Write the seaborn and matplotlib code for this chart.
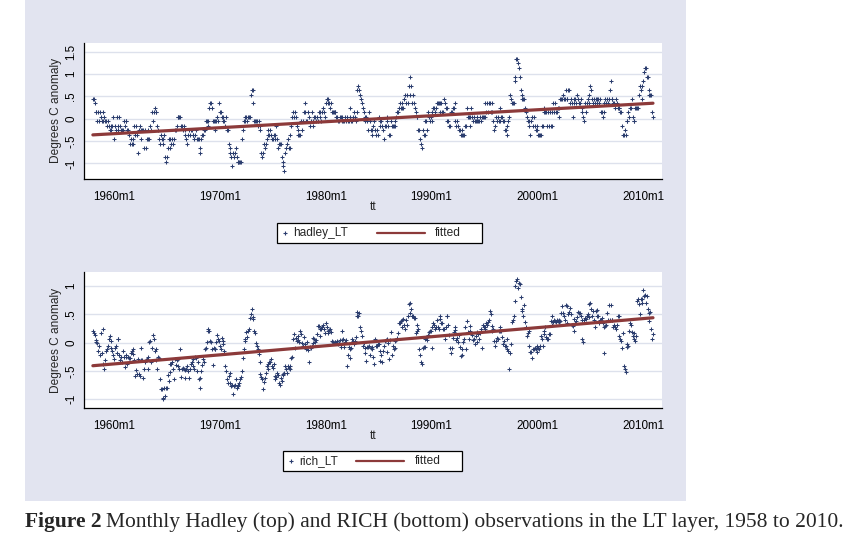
import numpy as np
import pandas as pd
import matplotlib
matplotlib.use("Agg")
import matplotlib.pyplot as plt
import seaborn as sns
from matplotlib.lines import Line2D
from matplotlib.patches import Rectangle

# monthly anomalies, Jan 1958 .. Dec 2010 (one row per year)
hadley_lt = [
    0.44, 0.44, 0.34, 0.14, 0.14, -0.06, 0.14, -0.06, 0.14, 0.04, -0.06, 0.14,      # 1958
    -0.06, 0.04, -0.06, -0.06, -0.16, -0.06, -0.16, -0.26, -0.16, -0.26, -0.16, 0.04,
    -0.46, -0.16, -0.26, 0.04, -0.16, -0.26, 0.04, -0.16, -0.26, -0.26, -0.26, -0.06,  # 1960
    -0.16, -0.06, -0.06, -0.26, -0.26, -0.36, -0.56, -0.46, -0.56, -0.46, -0.56, -0.16,
    -0.36, -0.16, -0.36, -0.76, -0.26, -0.16, -0.46, -0.26, -0.26, -0.26, -0.66, -0.26,
    -0.66, -0.46, -0.46, -0.26, -0.46, -0.16, -0.26, 0.14, -0.06, 0.14, 0.24, 0.14,
    0.14, -0.16, -0.26, -0.46, -0.56, -0.36, -0.46, -0.56, -0.46, -0.36, -0.86, -0.96,
    -0.86, -0.66, -0.46, -0.66, -0.46, -0.56, -0.46, -0.56, -0.46, -0.26, -0.26, -0.16,
    0.04, 0.04, 0.04, 0.04, -0.16, -0.16, -0.26, -0.16, -0.36, -0.26, -0.46, -0.56,
    -0.36, -0.26, -0.36, -0.26, -0.26, -0.36, -0.36, -0.46, -0.36, -0.26, -0.46, -0.46,
    -0.46, -0.66, -0.76, -0.46, -0.36, -0.36, -0.26, -0.26, -0.06, -0.06, -0.16, -0.06,
    0.24, 0.34, 0.34, 0.24, -0.06, -0.06, -0.26, -0.06, -0.06, 0.04, -0.06, 0.34,
    0.14, 0.14, 0.04, 0.04, -0.06, -0.06, -0.16, 0.04, -0.26, -0.26, -0.56, -0.66,    # 1970
    -0.76, -0.86, -1.06, -0.76, -0.86, -0.76, -0.66, -0.86, -0.96, -0.96, -0.96, -0.96,
    -0.96, -0.46, -0.26, -0.06, -0.06, 0.04, 0.04, -0.06, 0.04, 0.04, 0.04, 0.54,
    0.64, 0.64, 0.34, -0.06, -0.06, -0.06, -0.06, -0.16, -0.06, -0.16, -0.26, -0.76,
    -0.86, -0.76, -0.56, -0.66, -0.56, -0.46, -0.26, -0.36, -0.36, -0.26, -0.36, -0.46,
    -0.46, -0.36, -0.46, -0.36, -0.16, -0.46, -0.66, -0.56, -0.56, -0.56, -0.86, -1.06,
    -0.96, -1.16, -0.76, -0.66, -0.56, -0.46, -0.66, -0.66, -0.36, -0.16, 0.04, 0.14,
    0.04, 0.14, 0.04, -0.16, -0.26, -0.36, -0.36, -0.36, -0.06, -0.26, -0.06, 0.14,
    0.34, 0.14, -0.06, -0.06, 0.14, 0.04, -0.16, -0.06, 0.14, -0.06, -0.16, 0.04,
    0.04, -0.06, 0.04, -0.06, 0.14, 0.14, 0.04, -0.06, 0.14, 0.24, 0.14, 0.04,
    0.34, 0.44, 0.44, 0.34, 0.34, 0.24, 0.34, 0.14, 0.14, 0.14, 0.14, 0.14,          # 1980
    0.04, 0.04, -0.06, -0.06, 0.04, 0.04, -0.06, 0.04, -0.06, -0.06, 0.04, -0.06,
    0.04, -0.06, -0.06, 0.04, 0.24, -0.06, -0.06, 0.04, 0.14, 0.04, -0.06, 0.14,
    0.64, 0.74, 0.64, 0.54, 0.44, 0.34, 0.24, 0.14, 0.04, -0.06, 0.04, -0.06,
    -0.26, 0.14, -0.06, -0.26, -0.36, -0.26, -0.16, -0.06, -0.26, -0.36, -0.26, -0.36,
    0.04, -0.06, -0.16, -0.06, -0.16, -0.26, -0.46, -0.16, -0.16, -0.06, 0.04, -0.16,
    -0.36, -0.36, -0.06, -0.16, -0.16, -0.16, -0.16, -0.06, 0.04, 0.14, 0.14, 0.24,
    0.34, 0.24, 0.34, 0.24, 0.24, 0.44, 0.54, 0.34, 0.54, 0.34, 0.74, 0.94,
    0.54, 0.74, 0.34, 0.54, 0.34, 0.24, 0.14, 0.04, 0.04, -0.26, -0.26, -0.46,
    -0.56, -0.66, -0.26, -0.36, -0.36, -0.06, -0.06, -0.26, 0.14, 0.04, -0.06, 0.04,
    -0.06, 0.14, 0.24, 0.24, 0.14, 0.24, 0.34, 0.34, 0.34, 0.14, 0.34, 0.34,         # 1990
    0.14, 0.14, 0.44, 0.34, 0.24, 0.24, -0.06, -0.06, -0.16, -0.16, 0.14, 0.14,
    0.24, 0.24, 0.34, -0.06, -0.16, -0.06, -0.16, -0.26, -0.26, -0.36, -0.26, -0.36,
    -0.36, -0.36, -0.16, -0.16, 0.24, 0.04, 0.04, -0.16, 0.04, 0.24, 0.04, -0.06,
    0.04, -0.06, -0.06, 0.04, -0.06, -0.06, -0.06, 0.04, -0.06, 0.04, 0.04, 0.04,
    0.04, 0.34, 0.14, 0.34, 0.14, 0.34, 0.34, 0.14, 0.34, 0.14, -0.06, -0.26,
    -0.16, 0.04, -0.06, 0.04, -0.06, -0.06, 0.24, 0.04, 0.04, -0.06, -0.06, -0.26,
    -0.26, -0.16, -0.36, -0.06, 0.04, 0.54, 0.44, 0.34, 0.34, 0.34, 0.84, 0.94,
    1.34, 1.34, 1.24, 1.14, 0.94, 0.64, 0.54, 0.44, 0.44, 0.44, 0.24, 0.14,
    0.04, -0.06, -0.16, -0.06, -0.36, -0.06, 0.04, -0.16, 0.04, -0.16, -0.26, -0.16,
    -0.26, -0.36, -0.36, -0.36, -0.36, -0.16, -0.16, 0.14, 0.24, 0.14, 0.14, -0.16,  # 2000
    0.14, -0.16, 0.14, -0.16, 0.14, -0.16, 0.34, 0.14, 0.34, 0.14, 0.14, 0.24,
    0.04, 0.24, 0.44, 0.44, 0.44, 0.54, 0.44, 0.44, 0.64, 0.44, 0.44, 0.64,
    0.64, 0.34, 0.44, 0.34, 0.04, 0.44, 0.34, 0.44, 0.34, 0.54, 0.44, 0.34,
    0.34, 0.44, 0.24, 0.14, 0.04, -0.06, 0.34, 0.14, 0.34, 0.44, 0.54, 0.34,
    0.74, 0.64, 0.44, 0.34, 0.44, 0.34, 0.44, 0.34, 0.44, 0.44, 0.34, 0.44,
    0.14, 0.14, 0.04, 0.14, 0.34, 0.44, 0.34, 0.44, 0.34, 0.44, 0.64, 0.84,
    0.44, 0.44, 0.34, 0.34, 0.24, 0.44, 0.34, 0.24, 0.24, 0.24, 0.14, 0.14,
    -0.16, -0.36, -0.36, -0.26, -0.36, -0.06, -0.06, 0.14, 0.04, 0.24, 0.24, 0.44,
    0.04, -0.06, -0.06, 0.24, 0.24, 0.24, 0.24, 0.54, 0.74, 0.64, 0.44, 0.74,
    0.84, 1.04, 1.14, 1.14, 0.94, 0.94, 0.64, 0.54, 0.54, 0.54, 0.14, 0.04,          # 2010
]

rich_lt = [
    0.21, 0.18, 0.14, 0.05, 0.02, -0.01, -0.15, -0.05, -0.22, 0.18, -0.18, 0.24,      # 1958
    -0.37, -0.47, -0.3, -0.15, -0.12, -0.05, 0.06, 0.12, 0.03, -0.1, -0.15, -0.22,
    -0.28, -0.09, -0.05, -0.18, 0.06, 0.06, -0.22, -0.31, -0.26, -0.35, -0.15, -0.25,  # 1960
    -0.43, -0.22, -0.25, -0.38, -0.25, -0.27, -0.27, -0.18, -0.15, -0.12, -0.2, -0.3,
    -0.59, -0.48, -0.56, -0.28, -0.56, -0.59, -0.3, -0.09, -0.3, -0.62, -0.47, -0.35,
    -0.3, -0.28, -0.47, -0.26, 0.01, 0.03, -0.35, -0.09, 0.13, 0.06, -0.15, -0.3,
    -0.12, -0.47, -0.25, -0.27, -0.64, -0.82, -0.82, -1.0, -0.97, -0.8, -0.94, -0.8,
    -0.8, -0.58, -0.68, -0.52, -0.38, -0.38, -0.35, -0.47, -0.64, -0.29, -0.4, -0.3,
    -0.28, -0.42, -0.47, -0.12, -0.6, -0.47, -0.44, -0.47, -0.62, -0.48, -0.47, -0.41,
    -0.5, -0.62, -0.47, -0.38, -0.34, -0.29, -0.41, -0.47, -0.25, -0.27, -0.5, -0.35,
    -0.64, -0.62, -0.8, -0.5, -0.4, -0.28, -0.35, -0.11, -0.09, 0.01, 0.21, 0.24,
    0.21, 0.03, 0.01, -0.12, -0.4, -0.09, -0.12, -0.12, 0.01, 0.13, 0.06, 0.03,
    -0.06, -0.12, 0.09, 0.03, -0.03, -0.15, -0.42, -0.5, -0.65, -0.72, -0.59, -0.53,  # 1970
    -0.71, -0.77, -0.74, -0.91, -0.77, -0.74, -0.65, -0.8, -0.74, -0.77, -0.71, -0.65,
    -0.6, -0.5, -0.27, -0.11, 0.03, 0.06, 0.19, 0.1, 0.2, 0.25, 0.44, 0.5,
    0.6, 0.45, 0.42, 0.2, 0.18, -0.01, -0.05, -0.12, -0.2, -0.35, -0.55, -0.6,
    -0.65, -0.81, -0.7, -0.62, -0.53, -0.41, -0.38, -0.47, -0.35, -0.34, -0.28, -0.41,
    -0.44, -0.37, -0.59, -0.64, -0.6, -0.53, -0.58, -0.71, -0.74, -0.62, -0.68, -0.55,
    -0.58, -0.54, -0.41, -0.46, -0.53, -0.41, -0.44, -0.47, -0.41, -0.27, -0.25, 0.06,
    0.15, -0.09, 0.09, 0.03, 0.12, 0.05, 0.01, 0.21, 0.15, 0.0, -0.05, 0.1,
    -0.03, -0.05, -0.11, 0.01, -0.13, -0.34, -0.07, -0.09, -0.05, 0.09, 0.0, 0.06,
    0.01, 0.05, 0.15, 0.29, 0.29, 0.12, 0.25, 0.24, 0.27, 0.32, 0.24, 0.18,
    0.34, 0.27, 0.21, 0.18, 0.22, 0.24, 0.19, 0.03, 0.01, -0.01, 0.01, 0.01,          # 1980
    -0.01, 0.03, -0.03, 0.0, 0.05, -0.07, 0.05, 0.21, 0.07, -0.07, 0.01, 0.04,
    -0.41, -0.21, -0.07, -0.12, -0.27, -0.09, 0.06, 0.03, -0.03, 0.03, 0.1, 0.47,
    0.54, 0.47, 0.53, 0.27, 0.21, 0.12, -0.06, 0.0, -0.09, -0.18, -0.32, -0.07,
    -0.07, -0.05, -0.22, -0.1, -0.07, -0.11, -0.25, -0.38, 0.06, -0.06, -0.05, -0.03,
    -0.03, -0.15, -0.32, -0.22, -0.34, -0.15, -0.05, 0.03, 0.05, 0.07, -0.16, 0.0,
    -0.29, 0.05, 0.19, -0.22, -0.05, -0.11, -0.09, 0.03, 0.05, 0.09, 0.18, 0.34,
    0.34, 0.38, 0.27, 0.41, 0.42, 0.32, 0.25, 0.41, 0.31, 0.47, 0.68, 0.71,
    0.53, 0.59, 0.47, 0.47, 0.44, 0.44, 0.18, 0.21, 0.31, 0.25, -0.11, -0.22,
    -0.34, -0.37, -0.09, -0.07, -0.08, 0.06, 0.09, 0.05, 0.13, 0.19, 0.21, 0.21,
    -0.09, 0.28, 0.35, 0.32, 0.25, 0.27, 0.41, 0.27, 0.24, 0.47, 0.42, 0.35,         # 1990
    0.35, 0.24, 0.25, 0.07, 0.27, 0.47, 0.48, 0.32, 0.14, -0.09, -0.19, -0.09,
    0.09, 0.19, 0.22, 0.27, 0.05, 0.09, 0.01, 0.13, -0.07, -0.24, -0.22, -0.12,
    0.01, 0.07, 0.27, -0.11, 0.38, 0.19, 0.06, 0.29, 0.21, 0.18, 0.13, 0.05,
    0.07, -0.03, 0.12, 0.01, 0.19, 0.16, 0.06, 0.18, 0.24, -0.09, 0.32, 0.27,
    0.27, 0.25, 0.35, 0.32, 0.37, 0.4, 0.56, 0.5, 0.3, 0.21, 0.24, 0.03,
    -0.06, 0.03, 0.09, 0.06, 0.21, 0.21, 0.27, 0.21, 0.1, -0.03, 0.03, -0.05,
    -0.05, 0.06, -0.12, -0.15, -0.46, -0.18, -0.03, 0.37, 0.41, 0.47, 0.74, 1.0,
    1.09, 1.12, 0.97, 1.06, 1.03, 0.8, 0.59, 0.56, 0.47, 0.66, 0.37, 0.27,
    0.12, 0.18, 0.21, -0.06, -0.16, -0.16, -0.27, -0.12, -0.11, -0.09, -0.12, -0.06,
    -0.16, -0.09, -0.12, -0.05, 0.12, 0.06, -0.05, 0.16, 0.21, 0.27, 0.1, 0.06,      # 2000
    0.06, 0.15, 0.16, 0.38, 0.32, 0.47, 0.37, 0.41, 0.38, 0.37, 0.41, 0.38,
    0.37, 0.41, 0.38, 0.53, 0.65, 0.53, 0.47, 0.41, 0.66, 0.65, 0.35, 0.5,
    0.54, 0.62, 0.5, 0.32, 0.29, 0.21, 0.42, 0.34, 0.38, 0.45, 0.54, 0.53,
    0.53, 0.47, 0.4, 0.07, 0.01, 0.41, 0.44, 0.42, 0.47, 0.5, 0.45, 0.68,
    0.71, 0.59, 0.47, 0.56, 0.41, 0.27, 0.56, 0.58, 0.48, 0.47, 0.35, 0.4,
    0.4, 0.44, 0.35, 0.27, -0.19, 0.29, 0.32, 0.53, 0.41, 0.66, 0.41, 0.66,
    0.41, 0.4, 0.27, 0.31, 0.27, 0.24, 0.31, 0.47, 0.47, 0.12, 0.06, 0.03,
    -0.09, 0.18, -0.42, -0.47, -0.52, -0.07, -0.03, -0.05, 0.21, 0.35, 0.32, 0.19,
    0.12, 0.18, 0.06, 0.03, 0.12, 0.74, 0.77, 0.68, 0.5, 0.77, 0.71, 0.78,
    0.94, 0.82, 0.84, 0.71, 0.82, 0.59, 0.53, 0.38, 0.55, 0.25, 0.06, 0.15,          # 2010
]

first_year = 1958
xtick_years = [1960, 1970, 1980, 1990, 2000, 2010]
xtick_labels = ["1960m1", "1970m1", "1980m1", "1990m1", "2000m1", "2010m1"]
top_yticks = [-1, -0.5, 0, 0.5, 1, 1.5]
top_ylabels = ["-1", "-.5", "0", ".5", "1", "1.5"]
bot_yticks = [-1, -0.5, 0, 0.5, 1]
bot_ylabels = ["-1", "-.5", "0", ".5", "1"]

# colours
bg = "#e2e4f0"
navy = "#2b3d6e"
maroon = "#8c3a3a"
grid_col = "#dde1ec"

# monthly time variable (decimal years, month 1 = start of year)
tt = first_year + np.arange(len(hadley_lt)) / 12
df = pd.DataFrame({"tt": tt, "hadley_LT": hadley_lt, "rich_LT": rich_lt})

sns.set_style("white")
plt.rcParams["font.family"] = ["Liberation Sans", "DejaVu Sans"]

W, H = 867, 549


def fx(px):
    return px / W


def fy(py):
    return 1 - py / H


fig = plt.figure(figsize=(W / 100, H / 100), dpi=100)
fig.patch.set_facecolor("white")
fig.add_artist(Rectangle((fx(25), fy(501)), fx(686) - fx(25), fy(0) - fy(501),
                         transform=fig.transFigure, facecolor=bg,
                         edgecolor="none", zorder=0))


def draw_panel(top_px, col, ylim, yticks, ylabels):
    ax = fig.add_axes([fx(84.3), fy(top_px + 136.3), (661.7 - 84.3) / W, 136.3 / H])
    ax.set_facecolor("white")
    for v in yticks:
        ax.axhline(v, color=grid_col, lw=1.0, zorder=1)
    sns.scatterplot(data=df, x="tt", y=col, ax=ax, marker="+", s=5,
                    color=navy, linewidth=0.75, legend=False, zorder=3)
    sns.regplot(data=df, x="tt", y=col, ax=ax, scatter=False, ci=None,
                color=maroon, line_kws={"lw": 2.3, "zorder": 4})
    ax.set_xlim(1957.19, 2011.74)
    ax.set_ylim(ylim)
    ax.set_xticks(xtick_years)
    ax.set_xticklabels(xtick_labels)
    ax.set_yticks(yticks)
    ax.set_yticklabels(ylabels)
    for s in ["top", "right"]:
        ax.spines[s].set_visible(False)
    for s in ["left", "bottom"]:
        ax.spines[s].set_color("black")
        ax.spines[s].set_linewidth(0.9)
    ax.tick_params(axis="both", direction="out", length=3, width=0.8,
                   color="black", labelsize=8.4, labelcolor="black")
    ax.tick_params(axis="x", pad=5.5)
    ax.tick_params(axis="y", pad=2)
    for lab in ax.get_yticklabels():
        lab.set_rotation(90)
        lab.set_va("center")
        lab.set_ha("right")
    ax.set_xlabel("tt", fontsize=8.6)
    ax.xaxis.set_label_coords(0.5, -(207 - 179) / 136.3)
    ax.xaxis.label.set_va("center")
    ax.set_ylabel("Degrees C anomaly", fontsize=8.6)
    ax.yaxis.set_label_coords(-(84.3 - 56.5) / 577.4, 0.5)
    ax.yaxis.label.set_va("center")
    return ax


ax1 = draw_panel(42.7, "hadley_LT", (-1.35, 1.70), top_yticks, top_ylabels)
ax2 = draw_panel(272.0, "rich_LT", (-1.16, 1.25), bot_yticks, bot_ylabels)


def draw_legend(x0, x1, y0, y1, label, line_x0, line_x1, fit_x):
    fig.add_artist(Rectangle((fx(x0), fy(y1)), fx(x1) - fx(x0), fy(y0) - fy(y1),
                             transform=fig.transFigure, facecolor="white",
                             edgecolor="black", lw=0.9, zorder=5))
    yc = (y0 + y1) / 2
    fig.add_artist(Line2D([fx(x0 + 8)], [fy(yc)], marker="+", ms=2.2, mew=0.8,
                          color=navy, ls="", transform=fig.transFigure, zorder=6))
    fig.text(fx(x0 + 16), fy(yc), label, fontsize=8.6, va="center", ha="left", zorder=6)
    fig.add_artist(Line2D([fx(line_x0), fx(line_x1)], [fy(yc), fy(yc)], color=maroon,
                          lw=1.6, transform=fig.transFigure, zorder=6))
    fig.text(fx(fit_x), fy(yc), "fitted", fontsize=8.6, va="center", ha="left", zorder=6)


draw_legend(277, 482, 223, 243, "hadley_LT", 377, 425, 435)
draw_legend(283, 462, 451, 471, "rich_LT", 356, 404, 415)

# caption below the graph
cap_font = ["Liberation Serif", "DejaVu Serif"]
cap_size = 15.5
renderer = fig.canvas.get_renderer()
cap1 = fig.text(fx(25), fy(527), "Figure 2", fontsize=cap_size, fontweight="bold",
                family=cap_font, va="baseline", ha="left")
bb = cap1.get_window_extent(renderer)
fig.text(bb.x1 / W + 4 / W, fy(527),
         "Monthly Hadley (top) and RICH (bottom) observations in the LT layer, 1958 to 2010.",
         fontsize=cap_size, family=cap_font, va="baseline", ha="left")

fig.savefig("out.png", dpi=100)
